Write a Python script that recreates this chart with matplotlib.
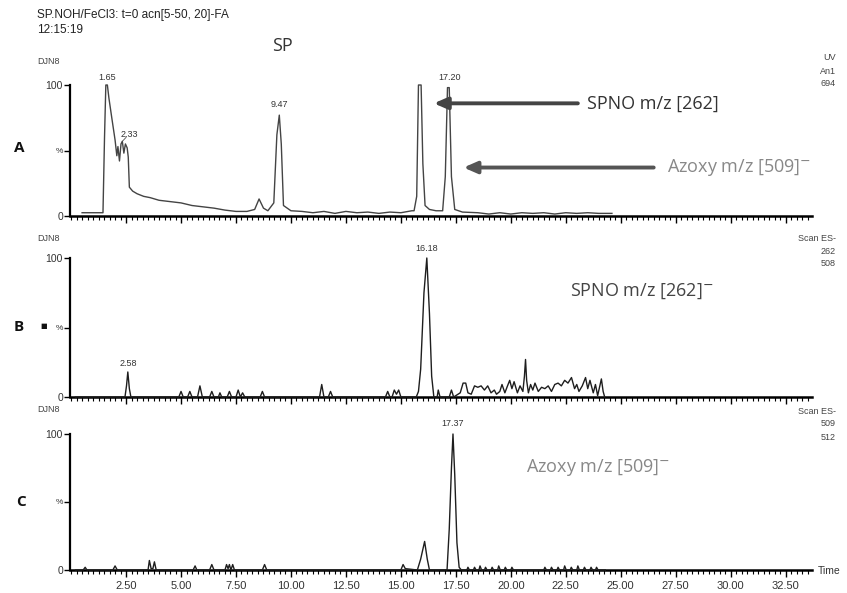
import matplotlib
matplotlib.use("Agg")
import matplotlib.pyplot as plt
from matplotlib.ticker import MultipleLocator

# ---------------- data ----------------
# Panel A: UV trace (time in min, % intensity)
a_time = [0.5, 1.45, 1.52, 1.58, 1.65, 1.72, 1.85, 2.0, 2.08, 2.13, 2.2, 2.27, 2.33,
          2.4, 2.47, 2.55, 2.6, 2.65, 2.8, 3.0, 3.3, 3.6, 4.0, 4.5, 5.0, 5.5, 6.0,
          6.5, 7.0, 7.5, 8.0, 8.35, 8.55, 8.75, 8.95, 9.22, 9.36, 9.47, 9.56, 9.66,
          10.0, 10.5, 11.0, 11.5, 12.0, 12.5, 13.0, 13.5, 14.0, 14.5, 15.0, 15.5,
          15.6, 15.72, 15.8, 15.92, 16.0, 16.1, 16.3, 16.6, 16.9, 17.02, 17.12,
          17.2, 17.3, 17.45, 17.8, 18.5, 19.0, 19.5, 20.0, 20.5, 21.0, 21.5, 22.0,
          22.5, 23.0, 23.5, 24.0, 24.6]
a_val = [2.5, 2.5, 60, 100, 100, 90, 75, 58, 46, 53, 42, 55, 57,
         48, 55, 52, 45, 22, 19, 17, 15, 14, 12, 11, 10, 8, 7,
         6, 4.5, 3.5, 3.5, 5, 13, 6, 4, 10, 62, 77, 55, 8,
         4, 3.5, 2.5, 3.5, 2, 3.5, 2.5, 3, 2, 3, 2.5, 4,
         4, 15, 100, 100, 40, 8, 5, 4, 4, 30, 98,
         98, 30, 5, 3, 2.5, 1.5, 2.5, 1.5, 2.5, 2, 2.5, 1.5,
         2.5, 2, 2.5, 2, 2]

# Panel B: Scan ES- m/z 262
b_time = [0.2, 2.45, 2.52, 2.58, 2.65, 2.72,
          4.9, 5.0, 5.1, 5.3, 5.4, 5.5, 5.75, 5.86, 5.97, 6.3, 6.4, 6.5, 6.7, 6.77,
          6.85, 7.1, 7.2, 7.3, 7.5, 7.6, 7.7, 7.8, 7.9, 8.6, 8.7, 8.8, 11.3, 11.4,
          11.5, 11.7, 11.8, 11.9, 14.3, 14.4, 14.5, 14.6, 14.7, 14.8, 14.9, 15.0,
          15.7, 15.8, 15.9, 16.05, 16.18, 16.3, 16.4, 16.5, 16.65, 16.7, 16.78,
          17.2, 17.3, 17.4, 17.7, 17.83, 17.95, 18.05, 18.2, 18.35, 18.5, 18.65,
          18.8, 18.95, 19.1, 19.25, 19.35, 19.5, 19.6, 19.73, 19.85, 19.95, 20.05,
          20.15, 20.3, 20.42, 20.55, 20.62, 20.67, 20.72, 20.8, 20.9, 21.0, 21.1,
          21.25, 21.4, 21.55, 21.7, 21.85, 22.0, 22.15, 22.3, 22.45, 22.6, 22.76,
          22.9, 23.0, 23.1, 23.25, 23.4, 23.5, 23.6, 23.75, 23.85, 23.95, 24.05,
          24.12, 24.2, 24.27]
b_val = [0, 0, 8, 18, 6, 0,
         0, 4, 0, 0, 4, 0, 0, 8, 0, 0, 4, 0, 0, 3,
         0, 0, 4, 0, 0, 5, 0, 3, 0, 0, 4, 0, 0, 9,
         0, 0, 4, 0, 0, 4, 0, 0, 5, 2, 5, 0,
         0, 4, 20, 75, 100, 60, 15, 0, 0, 5, 0,
         0, 5, 0, 3, 10, 10, 3, 2, 8, 7, 8,
         5, 8, 3, 5, 2, 4, 9, 3, 8, 12, 6,
         11, 3, 8, 4, 15, 27, 12, 3, 9, 5, 10,
         4, 7, 6, 8, 4, 9, 10, 8, 12, 10, 14,
         6, 9, 4, 8, 14, 6, 12, 3, 9, 1, 8,
         13, 4, 0]

# Panel C: Scan ES- m/z 509
c_time = [0.2, 0.55, 0.64, 0.72, 1.9, 2.0, 2.1, 3.5, 3.56, 3.64, 3.72, 3.79, 3.87,
          5.55, 5.64, 5.72, 6.3, 6.4, 6.5, 7.0, 7.07, 7.14, 7.2, 7.27, 7.35, 7.43,
          8.7, 8.8, 8.9, 15.0, 15.1, 15.2, 15.75, 15.9, 16.08, 16.2, 16.3, 17.1,
          17.2, 17.3, 17.37, 17.45, 17.55, 17.65, 17.75, 18.0, 18.05, 18.12, 18.3,
          18.35, 18.42, 18.55, 18.6, 18.67, 18.8, 18.85, 18.92, 19.1, 19.15, 19.22,
          19.4, 19.45, 19.52, 19.7, 19.75, 19.82, 20.0, 20.05, 20.12, 21.5, 21.55,
          21.62, 21.8, 21.85, 21.92, 22.1, 22.15, 22.22, 22.4, 22.45, 22.52, 22.7,
          22.75, 22.82, 23.0, 23.05, 23.12, 23.3, 23.35, 23.42, 23.6, 23.65, 23.72,
          23.85, 23.9, 23.97, 24.3]
c_val = [0, 0, 2, 0, 0, 3, 0, 0, 7, 1, 1, 6, 0,
         0, 3, 0, 0, 4, 0, 0, 4, 1, 4, 0, 4, 0,
         0, 4, 0, 0, 4, 1, 0, 8, 21, 8, 0, 0,
         30, 75, 100, 70, 20, 2, 0, 0, 2, 0, 0,
         2, 0, 0, 3, 0, 0, 2, 0, 0, 2, 0,
         0, 3, 0, 0, 2, 0, 0, 2, 0, 0, 2,
         0, 0, 2, 0, 0, 2, 0, 0, 3, 0, 0,
         2, 0, 0, 3, 0, 0, 2, 0, 0, 2, 0,
         0, 2, 0, 0]

# peak labels: (time text, x, y)
a_peaks = [("1.65", 1.65, 106), ("2.33", 2.65, 62), ("9.47", 9.47, 85), ("17.20", 17.2, 106)]
b_peaks = [("2.58", 2.58, 24), ("16.18", 16.18, 107)]
c_peaks = [("17.37", 17.37, 108)]

x_ticks = [2.5, 5.0, 7.5, 10.0, 12.5, 15.0, 17.5, 20.0, 22.5, 25.0, 27.5, 30.0, 32.5]
x_tick_labels = ["2.50", "5.00", "7.50", "10.00", "12.50", "15.00", "17.50",
                 "20.00", "22.50", "25.00", "27.50", "30.00", "32.50"]
y_ticks = [0, 50, 100]
y_tick_labels = ["0", "%", "100"]

# ---------------- figure ----------------
W, H = 847, 593
fig = plt.figure(figsize=(W / 100, H / 100), dpi=100)
fig.patch.set_facecolor("white")

NARROW = ["Liberation Sans Narrow", "Liberation Sans", "DejaVu Sans"]
SANS = ["Liberation Sans", "DejaVu Sans"]
ANN = ["Open Sans", "DejaVu Sans"]


def rect(top, bottom, left=70, right=812):
    return [left / W, 1 - bottom / H, (right - left) / W, (bottom - top) / H]


def fig_text(x, y, s, **kw):
    fig.text(x / W, 1 - y / H, s, **kw)


panels = [
    (rect(85, 216), a_time, a_val, a_peaks, "#444444"),
    (rect(258, 397), b_time, b_val, b_peaks, "#1e1e1e"),
    (rect(434, 570), c_time, c_val, c_peaks, "#1e1e1e"),
]
axes = []
for i, (r, t, v, pk, col) in enumerate(panels):
    ax = fig.add_axes(r)
    ax.plot(t, v, color=col, lw=1.0, clip_on=False, zorder=3)
    ax.set_xlim(-0.05, 33.7)
    ax.set_ylim(0, 100)
    for s in ("top", "right"):
        ax.spines[s].set_visible(False)
    ax.spines["left"].set_linewidth(1.6)
    ax.spines["bottom"].set_linewidth(1.8)
    ax.set_yticks(y_ticks)
    ax.set_yticklabels(y_tick_labels, family=NARROW, fontsize=7.5, color="#333")
    ax.get_yticklabels()[1].set_fontsize(6)
    ax.tick_params(axis="y", length=4, width=1, pad=1)
    ax.set_xticks(x_ticks)
    ax.xaxis.set_minor_locator(MultipleLocator(0.25))
    ax.tick_params(axis="x", which="major", length=5, width=1)
    ax.tick_params(axis="x", which="minor", length=3, width=0.8)
    if i == 2:
        ax.set_xticklabels(x_tick_labels, family=NARROW, fontsize=8, color="#333")
        ax.tick_params(axis="x", which="major", pad=3)
    else:
        ax.set_xticklabels([])
    for lab, x, y in pk:
        ax.text(x, y, lab, ha="center", va="center", fontsize=6.5, family=NARROW,
                color="#333", clip_on=False)
    ax.patch.set_alpha(0)
    axes.append(ax)

axA, axB, axC = axes
# small leader for 2.33
axA.plot([2.33, 2.5], [57, 60], color="#555", lw=0.6, clip_on=False)

# annotations (panel A)
axA.text(9.6, 130, "SP", fontsize=13, family=ANN, color="#333", ha="center",
         va="center", clip_on=False)
axA.annotate("", xy=(16.5, 86), xytext=(23.05, 86),
             arrowprops=dict(arrowstyle="-|>,head_length=0.8,head_width=0.35",
                             color="#444", lw=2.8, shrinkA=0, shrinkB=0))
axA.text(23.45, 86, "SPNO m/z [262]", fontsize=13, family=ANN, color="#333",
         va="center", ha="left")
axA.annotate("", xy=(17.85, 37), xytext=(26.5, 37),
             arrowprops=dict(arrowstyle="-|>,head_length=0.8,head_width=0.35",
                             color="#555", lw=2.8, shrinkA=0, shrinkB=0))
axA.text(27.1, 37, "Azoxy m/z [509]$^{-}$", fontsize=13, family=ANN, color="#888",
         va="center", ha="left", clip_on=False)

axB.text(22.7, 76, "SPNO m/z [262]$^{-}$", fontsize=13, family=ANN, color="#444",
         va="center", ha="left")
axC.text(20.7, 75, "Azoxy m/z [509]$^{-}$", fontsize=13, family=ANN, color="#888",
         va="center", ha="left")

# header texts
fig_text(37, 15, "SP.NOH/FeCl3: t=0 acn[5-50, 20]-FA", fontsize=8.5, family=SANS,
         color="#222", va="center")
fig_text(37, 30, "12:15:19", fontsize=8.5, family=SANS, color="#222", va="center")
for y in (62, 238, 410):
    fig_text(37, y, "DJN8", fontsize=6.5, family=NARROW, color="#444", va="center")

right_labels = [(58, ["UV", "An1", "694"]), (238, ["Scan ES-", "262", "508"]),
                (411, ["Scan ES-", "509", "512"])]
for y0, lines in right_labels:
    for k, s in enumerate(lines):
        fig_text(836, y0 + k * 13, s, fontsize=6.5, family=NARROW, color="#444",
                 ha="right", va="center")

fig_text(818, 571, "Time", fontsize=7.5, family=NARROW, color="#333", va="center")

# panel letters
for x, y, s in ((14, 148, "A"), (14, 327, "B"), (16, 502, "C")):
    fig_text(x, y, s, fontsize=11, family=ANN, weight="bold", color="#111",
             va="center")
fig_text(40, 326, "■", fontsize=5, family=["DejaVu Sans"], color="#111",
         va="center")

fig.savefig("out.png", dpi=100, facecolor="white")
